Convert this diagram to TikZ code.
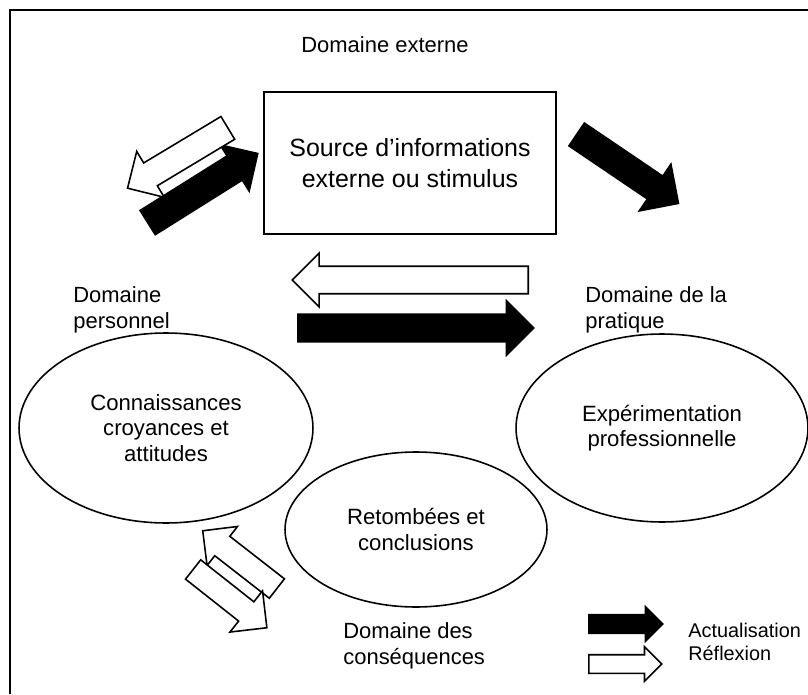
\documentclass[tikz,border=0pt]{standalone}
\usepackage{fontspec}
\setmainfont{Liberation Sans}
\usetikzlibrary{shapes.geometric,shapes.arrows}

\def \labelfont {\fontsize{12.5}{14.7}\selectfont}
\def \boxfont {\fontsize{14.2}{17.6}\selectfont}
\def \bubblefont {\fontsize{12.6}{14.5}\selectfont}
\def \legendfont {\fontsize{11.3}{13}\selectfont}

\begin{document}
\begin{tikzpicture}[x=0.02cm, y=0.02cm,
  domainlabel/.style={font=\labelfont, align=left, anchor=west, inner sep=0pt},
  bubble/.style={draw, ellipse, line width=0.9pt, fill=white, font=\bubblefont, align=center},
  actarrow/.style={single arrow, draw, fill=black, line width=0.9pt, inner xsep=0pt, anchor=tail},
  refarrow/.style={single arrow, draw, fill=white, line width=0.9pt, inner xsep=0pt, anchor=tail}]
\useasboundingbox (0,0) rectangle (808,694);
% frame
\draw[line width=1.1pt] (10,0) -- (10,684) -- (808,684);

% domains
\node[font=\labelfont] (externe) at (385,649) {Domaine externe};
\node[domainlabel] (personnel) at (73,384) {Domaine\\personnel};
\node[domainlabel] (pratique) at (585,384) {Domaine de la\\pratique};
\node[domainlabel] (consequences) at (343,48) {Domaine des\\conséquences};

% source box and bubbles
\node[draw, line width=1.1pt, minimum width=5.84cm, minimum height=2.84cm, align=center, font=\boxfont] (source) at (410,531) {Source d’informations\\externe ou stimulus};
\node[bubble, minimum width=5.88cm, minimum height=3.8cm] (connaissances) at (166,266) {Connaissances\\croyances et\\attitudes};
\node[bubble, minimum width=5.84cm, minimum height=3.76cm] (experimentation) at (662,266) {Expérimentation\\professionnelle};
\node[bubble, minimum width=5.24cm, minimum height=3.1cm] (retombees) at (416,164.5) {Retombées et\\conclusions};

% block arrows, placed by their tails
\node[actarrow, minimum height=2.6cm, inner ysep=0.27cm, single arrow head extend=0.26cm, rotate=32.1] (act1) at (147,471) {};
\node[refarrow, minimum height=2.34cm, inner ysep=0.25cm, single arrow head extend=0.27cm, rotate=211] (ref1) at (228.5,566.5) {};
\node[actarrow, minimum height=2.46cm, inner ysep=0.26cm, single arrow head extend=0.29cm, rotate=-34.1] (act2) at (576,560) {};
\node[refarrow, minimum height=4.72cm, inner ysep=0.26cm, single arrow head extend=0.26cm, rotate=180] (ref2) at (529,414) {};
\node[actarrow, minimum height=4.72cm, inner ysep=0.26cm, single arrow head extend=0.27cm] (act3) at (297,366) {};
\node[refarrow, minimum height=1.88cm, inner ysep=0.23cm, single arrow head extend=0.25cm, rotate=142.1] (ref3) at (277.5,105) {};
\node[refarrow, minimum height=1.88cm, inner ysep=0.23cm, single arrow head extend=0.28cm, rotate=-38.3] (ref4) at (192.5,125) {};

% legend
\node[actarrow, minimum height=1.48cm, inner ysep=0.17cm, single arrow head extend=0.16cm] (legact) at (588,70) {};
\node[refarrow, minimum height=1.46cm, inner ysep=0.17cm, single arrow head extend=0.16cm] (legref) at (588,30) {};
\node[font=\legendfont, align=left, anchor=west, inner sep=0pt] (legtext) at (688,52.5) {Actualisation\\Réflexion};
\end{tikzpicture}
\end{document}
